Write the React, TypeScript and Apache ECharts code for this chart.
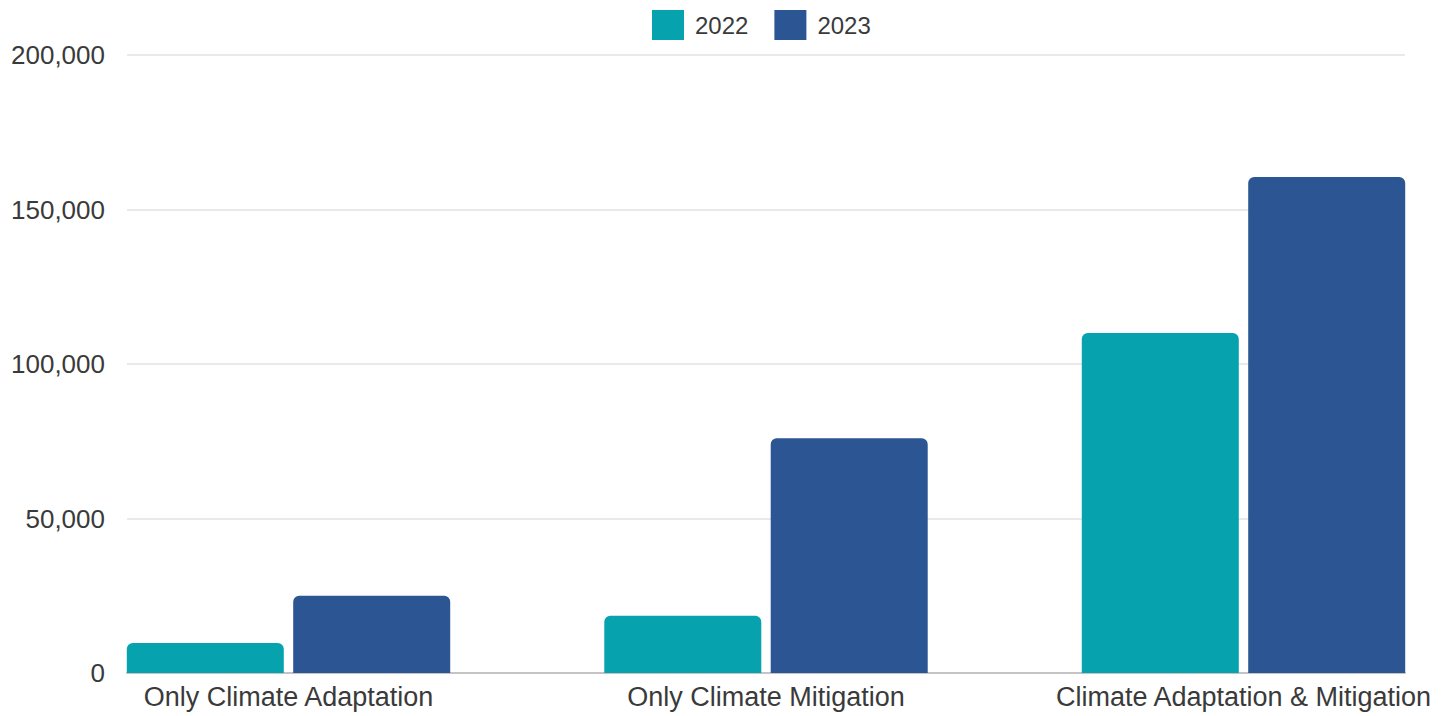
import React, { useEffect, useRef } from "react";
import * as echarts from "echarts";

const categories = ["Only Climate Adaptation", "Only Climate Mitigation", "Climate Adaptation & Mitigation"];
const seriesNames = ["2022", "2023"];
const values2022 = [9700, 18500, 110000];
const values2023 = [25000, 76000, 160500];
const yTicks = [0, 50000, 100000, 150000, 200000];

const FONT = '"Liberation Sans", Arial, sans-serif';
const TEXT = "#3a3a3a";
const COLORS = ["#06A3AE", "#2C5594"];

export default function App() {
  const ref = useRef<HTMLDivElement>(null);
  useEffect(() => {
    if (!ref.current) return;
    const chart = echarts.init(ref.current, undefined, { renderer: "svg" });
    const yMin = yTicks[0];
    const yMax = yTicks[yTicks.length - 1];
    const yInterval = yTicks[1] - yTicks[0];
    chart.setOption({
      animation: false,
      textStyle: { fontFamily: FONT },
      legend: {
        left: 647,
        top: 5,
        itemWidth: 32,
        itemHeight: 30,
        itemGap: 26,
        icon: "rect",
        data: seriesNames,
        textStyle: { fontSize: 24, color: TEXT, fontFamily: FONT, padding: [0, 0, 0, 6] },
      },
      grid: [
        { left: 288.5, right: 204.5, top: 55, bottom: 43, containLabel: false },
        { left: 127, right: 43, top: 55, bottom: 43, containLabel: false },
      ],
      xAxis: [
        {
          type: "category",
          gridIndex: 0,
          data: categories,
          boundaryGap: false,
          axisLine: { show: false },
          axisTick: { show: false },
          splitLine: { show: false },
          axisLabel: { interval: 0, fontSize: 27, color: TEXT, fontFamily: FONT, margin: 10 },
        },
        {
          type: "value",
          gridIndex: 1,
          min: 0,
          max: 1,
          axisLine: { show: true, onZero: false, lineStyle: { color: "#c4c4c4", width: 2 } },
          axisTick: { show: false },
          axisLabel: { show: false },
          splitLine: { show: false },
        },
      ],
      yAxis: [
        {
          type: "value",
          gridIndex: 0,
          min: yMin,
          max: yMax,
          interval: yInterval,
          show: false,
          splitLine: { show: false },
        },
        {
          type: "value",
          gridIndex: 1,
          min: yMin,
          max: yMax,
          interval: yInterval,
          axisLine: { show: false },
          axisTick: { show: false },
          axisLabel: {
            fontSize: 26,
            color: TEXT,
            fontFamily: FONT,
            margin: 22,
            formatter: (v: number) => v.toLocaleString("en-US"),
          },
          splitLine: { show: true, lineStyle: { color: "#e2e2e2", width: 1.5 } },
        },
      ],
      series: [
        {
          name: seriesNames[0],
          type: "bar",
          xAxisIndex: 0,
          yAxisIndex: 0,
          data: values2022,
          barWidth: 157,
          barGap: "6%",
          clip: false,
          itemStyle: { color: COLORS[0], borderRadius: [6, 6, 0, 0] },
          z: 3,
        },
        {
          name: seriesNames[1],
          type: "bar",
          xAxisIndex: 0,
          yAxisIndex: 0,
          data: values2023,
          barWidth: 157,
          barGap: "6%",
          clip: false,
          itemStyle: { color: COLORS[1], borderRadius: [6, 6, 0, 0] },
          z: 3,
        },
      ],
    });
    return () => chart.dispose();
  }, []);
  return (
    <div
      ref={ref}
      style={{ position: "fixed", left: 0, top: 0, width: 1448, height: 716, background: "#fff" }}
    />
  );
}
